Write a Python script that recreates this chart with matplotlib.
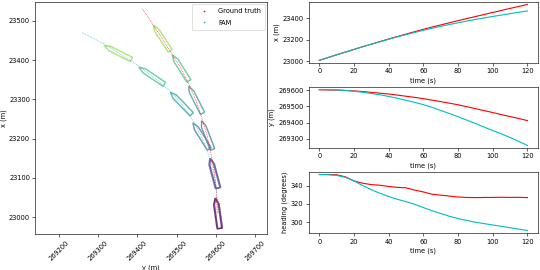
import numpy as np
import matplotlib
matplotlib.use('Agg')
import matplotlib.pyplot as plt
from matplotlib.lines import Line2D
from matplotlib.patches import Polygon

plt.rcParams['font.size'] = 8.8

# time (s)
t = [0, 5, 10, 15, 20, 25, 30, 35, 40, 45, 50, 55, 60,
     65, 70, 75, 80, 85, 90, 95, 100, 105, 110, 115, 120]

# ground truth
gt_x = [23010, 23036, 23062, 23087, 23112, 23137, 23161, 23185, 23209, 23232, 23255, 23277, 23299,
        23320, 23340, 23360, 23380, 23399, 23418, 23437, 23456, 23475, 23494, 23512, 23531]
gt_y = [269603, 269602, 269601, 269599, 269596, 269592, 269587, 269582, 269577, 269570, 269563, 269556, 269548,
        269539, 269530, 269520, 269510, 269498, 269486, 269474, 269462, 269449, 269437, 269425, 269412]
gt_h = [352, 352, 351.7, 349.5, 345, 342.5, 341, 340.3, 339, 338, 337.5, 335, 333,
        330.5, 329.5, 328.5, 327.5, 327, 326.8, 327, 327, 327.2, 327, 327.2, 326.8]

# FAM estimate
fam_x = [23010, 23036, 23062, 23087, 23112, 23137, 23161, 23184, 23207, 23229, 23250, 23270, 23290,
         23309, 23327, 23344, 23360, 23376, 23391, 23405, 23419, 23432, 23445, 23458, 23470]
fam_y = [269605, 269604, 269602, 269599, 269594, 269588, 269580, 269572, 269562, 269550, 269538, 269525, 269511,
         269494, 269475, 269456, 269436, 269415, 269394, 269372, 269350, 269330, 269307, 269283, 269258]
fam_h = [352, 351.8, 351, 349, 345, 340, 335.5, 331.5, 328, 325, 322.5, 319.5, 316,
         312.5, 309.5, 306.5, 304, 302, 300, 298.5, 297, 295.5, 294, 292.5, 291]

# times where the ship outline is drawn
ship_times = [0, 20, 40, 60, 80, 100]
SHIP_L = 78.0
SHIP_B = 12.0


def ship_outline(xn, ye, heading):
    # local coords: a forward, b starboard
    a = np.array([-SHIP_L/2, SHIP_L/2 - 16, SHIP_L/2, SHIP_L/2 - 16, -SHIP_L/2])
    b = np.array([-SHIP_B/2, -SHIP_B/2, 0, SHIP_B/2, SHIP_B/2])
    psi = np.deg2rad(heading)
    east = ye + a*np.sin(psi) + b*np.cos(psi)
    north = xn + a*np.cos(psi) - b*np.sin(psi)
    return np.column_stack([east, north])


fig = plt.figure(figsize=(10, 5), dpi=54)

# trajectory plot
ax = fig.add_axes([0.065, 0.133, 0.43, 0.86])
ax.plot(gt_y, gt_x, color='r', ls=(0, (1, 1.5)), lw=0.9)
ax.plot(fam_y, fam_x, color='c', ls=(0, (1, 1.5)), lw=0.9)
for ts in ship_times:
    i = t.index(ts)
    col = plt.cm.viridis(ts / 120)
    for xs, ys, hs in [(gt_x, gt_y, gt_h), (fam_x, fam_y, fam_h)]:
        ax.add_patch(Polygon(ship_outline(xs[i], ys[i], hs[i]), closed=True,
                             fill=False, edgecolor=col, lw=1.8, alpha=0.8))
        ax.add_patch(Polygon(ship_outline(xs[i], ys[i], hs[i]), closed=True,
                             fill=False, edgecolor='white', lw=0.4, alpha=0.5))
ax.set_xlim(269140, 269730)
ax.set_ylim(22957, 23548)
ax.set_aspect('equal')
ax.set_xticks([269200, 269300, 269400, 269500, 269600, 269700])
ax.set_yticks([23000, 23100, 23200, 23300, 23400, 23500])
ax.ticklabel_format(useOffset=False, style='plain')
plt.setp(ax.get_xticklabels(), rotation=45)
ax.set_xlabel('y (m)')
ax.set_ylabel('x (m)', labelpad=2)
handles = [Line2D([], [], color='r', marker='.', ls='', markersize=2.5),
           Line2D([], [], color='c', marker='.', ls='', markersize=2.5)]
ax.legend(handles, ['Ground truth', 'FAM'], loc='upper right',
          labelspacing=0.9, borderpad=0.6, handlelength=2.4, handletextpad=1.0,
          borderaxespad=0.3)

# time series
left, width, height = 0.572, 0.424, 0.228
ax1 = fig.add_axes([left, 0.766, width, height])
ax2 = fig.add_axes([left, 0.451, width, height])
ax3 = fig.add_axes([left, 0.136, width, height])

ax1.plot(t, gt_x, 'r', lw=1.5)
ax1.plot(t, fam_x, 'c', lw=1.5)
ax1.set_ylabel('x (m)')

ax2.plot(t, gt_y, 'r', lw=1.5)
ax2.plot(t, fam_y, 'c', lw=1.5)
ax2.set_ylabel('y (m)')
ax2.set_yticks([269300, 269400, 269500, 269600])

ax3.plot(t, gt_h, 'r', lw=1.5)
ax3.plot(t, fam_h, 'c', lw=1.5)
ax3.set_ylabel('heading (degrees)')
ax3.set_yticks([300, 320, 340])

for a in (ax1, ax2, ax3):
    a.set_xlabel('time (s)')
    a.ticklabel_format(axis='y', useOffset=False, style='plain')

fig.savefig('out.png', dpi=54)
